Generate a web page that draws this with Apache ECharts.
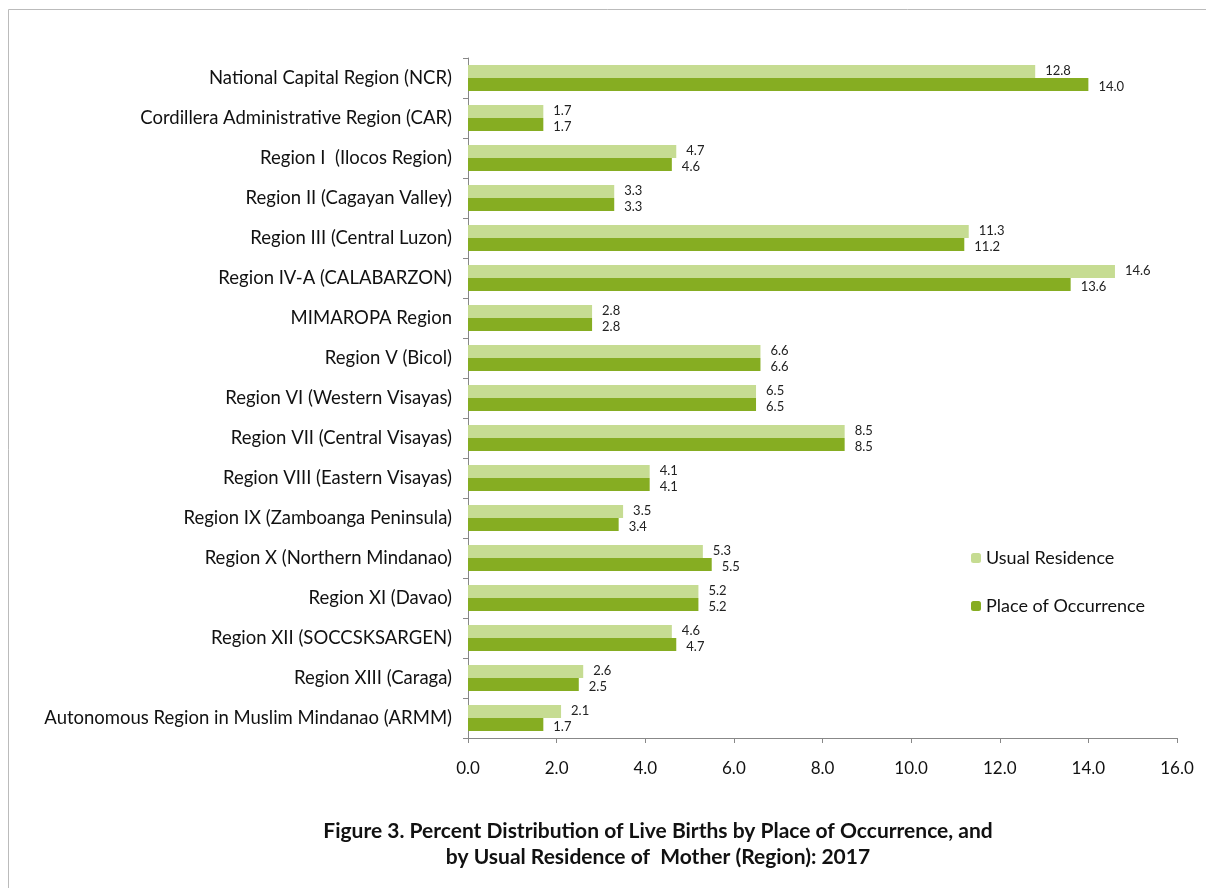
<!DOCTYPE html>
<html>
<head>
<meta charset="utf-8">
<script src="https://cdn.jsdelivr.net/npm/echarts@6/dist/echarts.min.js"></script>
<style>
  html, body { margin: 0; padding: 0; background: #fff; }
  #chart { width: 1206px; height: 888px; }
</style>
</head>
<body>
<div id="chart"></div>
<script>
    // 区域名称
    var regions = [
        'National Capital Region (NCR)',
        'Cordillera Administrative Region (CAR)',
        'Region I  (Ilocos Region)',
        'Region II (Cagayan Valley)',
        'Region III (Central Luzon)',
        'Region IV-A (CALABARZON)',
        'MIMAROPA Region',
        'Region V (Bicol)',
        'Region VI (Western Visayas)',
        'Region VII (Central Visayas)',
        'Region VIII (Eastern Visayas)',
        'Region IX (Zamboanga Peninsula)',
        'Region X (Northern Mindanao)',
        'Region XI (Davao)',
        'Region XII (SOCCSKSARGEN)',
        'Region XIII (Caraga)',
        'Autonomous Region in Muslim Mindanao (ARMM)'
    ];
    var usualResidence = [12.8, 1.7, 4.7, 3.3, 11.3, 14.6, 2.8, 6.6, 6.5, 8.5, 4.1, 3.5, 5.3, 5.2, 4.6, 2.6, 2.1];
    var placeOfOccurrence = [14.0, 1.7, 4.6, 3.3, 11.2, 13.6, 2.8, 6.6, 6.5, 8.5, 4.1, 3.4, 5.5, 5.2, 4.7, 2.5, 1.7];
    var seriesNames = ['Usual Residence', 'Place of Occurrence'];
    var titleLines = [
        'Figure 3. Percent Distribution of Live Births by Place of Occurrence, and',
        'by Usual Residence of  Mother (Region): 2017'
    ];

    var font = 'Lato, "Open Sans", sans-serif';
    var chart = echarts.init(document.getElementById('chart'));

    var option = {
        animation: false,
        color: ['#c6dc92', '#86ad22'],
        textStyle: { fontFamily: font },
        graphic: [{
            type: 'rect',
            shape: { x: 8.5, y: 9.5, width: 1210, height: 900 },
            style: { fill: 'none', stroke: '#bbbbbb', lineWidth: 1 }
        }, {
            // 图表标题
            type: 'text',
            x: 658,
            y: 818,
            style: {
                text: titleLines.join('\n'),
                align: 'center',
                verticalAlign: 'top',
                font: 'bold 21px Lato, "Open Sans", sans-serif',
                fill: '#111',
                lineHeight: 26
            }
        }],
        legend: {
            orient: 'vertical',
            left: 966,
            top: 544,
            itemWidth: 10,
            itemHeight: 10,
            itemGap: 30,
            textStyle: { fontFamily: font, fontSize: 18, color: '#111' },
            data: seriesNames
        },
        grid: {
            left: 468,
            right: 29,
            top: 58,
            bottom: 150
        },
        xAxis: {
            type: 'value',
            min: 0,
            max: 16,
            interval: 2,
            axisLine: { show: true, lineStyle: { color: '#888' } },
            axisTick: { show: true, length: 5, lineStyle: { color: '#888' } },
            splitLine: { show: false },
            axisLabel: {
                fontFamily: font,
                fontSize: 17,
                color: '#111',
                margin: 22,
                formatter: function(v) { return v.toFixed(1); }
            }
        },
        yAxis: {
            type: 'category',
            inverse: true,
            data: regions,
            axisLine: { show: true, lineStyle: { color: '#888' } },
            axisTick: { show: true, length: 5, lineStyle: { color: '#888' } },
            axisLabel: {
                fontFamily: font,
                fontSize: 18.5,
                color: '#111',
                margin: 16
            }
        },
        series: [{
            name: seriesNames[0],
            type: 'bar',
            data: usualResidence,
            barWidth: 13,
            barGap: '0%',
            label: {
                show: true,
                position: 'right',
                offset: [0, -1],
                distance: 10,
                fontSize: 13,
                color: '#222',
                formatter: function(p) { return p.value.toFixed(1); }
            }
        }, {
            name: seriesNames[1],
            type: 'bar',
            data: placeOfOccurrence,
            barWidth: 13,
            barGap: '0%',
            label: {
                show: true,
                position: 'right',
                offset: [0, 2],
                distance: 10,
                fontSize: 13,
                color: '#222',
                formatter: function(p) { return p.value.toFixed(1); }
            }
        }]
    };

    chart.setOption(option);
</script>
</body>
</html>
